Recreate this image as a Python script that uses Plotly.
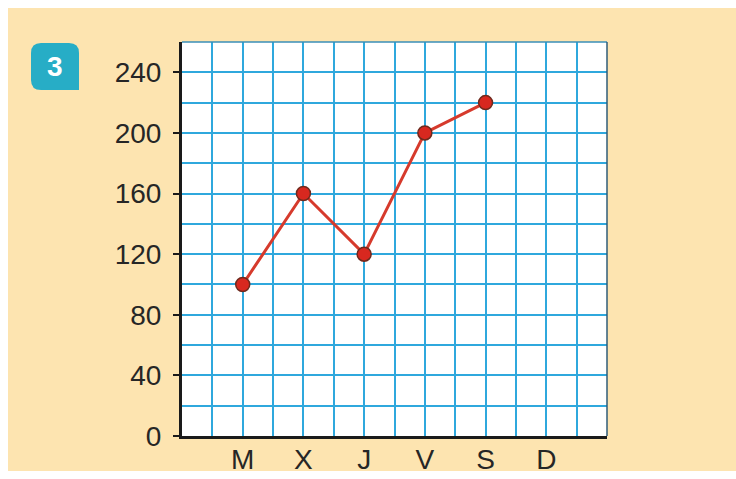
import plotly.graph_objects as go

# ---- data ----
months = ["M", "X", "J", "V", "S", "D"]
values = [100, 160, 120, 200, 220]
y_ticks = [0, 40, 80, 120, 160, 200, 240]
badge_label = "3"

W, H = 736, 479
ML, MR, MT, MB = 182, 129, 42, 43
PW, PH = W - ML - MR, H - MT - MB

def px(x):
    return (x - ML) / PW

def py(y):
    return (H - MB - y) / PH

x_pos = [2 * (i + 1) for i in range(len(months))]
x_grid = list(range(0, 15))
x_text = [months[x_pos.index(v)] if v in x_pos else "" for v in x_grid]

fig = go.Figure()
fig.add_trace(go.Scatter(
    x=x_pos[:len(values)], y=values, mode="lines+markers",
    line=dict(color="#d63a2c", width=3),
    marker=dict(size=14, color="#d8281f", line=dict(color="#6e2a1e", width=1.5)),
    showlegend=False, cliponaxis=False,
))

grid_col = "#2fa8dd"
font = dict(family="Liberation Sans", size=28, color="#262626")
fig.update_xaxes(
    range=[0, 14], tickmode="array", tickvals=x_grid, ticktext=x_text,
    showgrid=True, gridcolor=grid_col, gridwidth=2, ticks="",
    showline=True, linecolor="#1a1a1a", linewidth=3, zeroline=False,
    tickfont=font, ticklabelstandoff=-4, automargin=False,
    fixedrange=True,
)
fig.update_yaxes(
    range=[0, 260], tickmode="array", tickvals=y_ticks,
    showgrid=True, gridcolor=grid_col, gridwidth=2,
    minor=dict(dtick=20, tick0=0, showgrid=True, gridcolor=grid_col, gridwidth=2, ticks=""),
    ticks="outside", ticklen=6, tickwidth=2, tickcolor="#1a1a1a",
    showline=True, linecolor="#1a1a1a", linewidth=3, zeroline=False,
    tickfont=font, ticklabelstandoff=6, automargin=False,
    fixedrange=True,
)

white = "#ffffff"
shapes = [
    # white page border (top, left, bottom)
    dict(type="rect", xref="paper", yref="paper", x0=px(0), x1=px(W), y0=py(8), y1=py(0),
         fillcolor=white, line=dict(width=0), layer="below"),
    dict(type="rect", xref="paper", yref="paper", x0=px(0), x1=px(8), y0=py(H), y1=py(0),
         fillcolor=white, line=dict(width=0), layer="below"),
    dict(type="rect", xref="paper", yref="paper", x0=px(0), x1=px(W), y0=py(H), y1=py(471),
         fillcolor=white, line=dict(width=0), layer="below"),
    # thin border top/right
    dict(type="line", xref="paper", yref="paper", x0=0, x1=1, y0=1, y1=1,
         line=dict(color="#3a8fb8", width=1.5)),
    dict(type="line", xref="paper", yref="paper", x0=1, x1=1, y0=0, y1=1,
         line=dict(color="#2f5d78", width=1.5)),
]

# badge
bx0, by0, bx1, by1, r = 31, 43, 79, 90, 10
path = (f"M {px(bx0+r)},{py(by0)} L {px(bx1-r)},{py(by0)} "
        f"Q {px(bx1)},{py(by0)} {px(bx1)},{py(by0+r)} "
        f"L {px(bx1)},{py(by1)} L {px(bx0+r)},{py(by1)} "
        f"Q {px(bx0)},{py(by1)} {px(bx0)},{py(by1-r)} "
        f"L {px(bx0)},{py(by0+r)} Q {px(bx0)},{py(by0)} {px(bx0+r)},{py(by0)} Z")
shapes.append(dict(type="path", xref="paper", yref="paper", path=path,
                   fillcolor="#27adc6", line=dict(width=0)))

fig.update_layout(
    width=W, height=H,
    margin=dict(l=ML, r=MR, t=MT, b=MB, pad=0, autoexpand=False),
    paper_bgcolor="#fde4b0", plot_bgcolor="#ffffff",
    shapes=shapes,
    annotations=[dict(text=f"<b>{badge_label}</b>", xref="paper", yref="paper",
                      x=px((bx0 + bx1) / 2), y=py((by0 + by1) / 2),
                      xanchor="center", yanchor="middle", showarrow=False,
                      font=dict(family="Liberation Sans", size=28, color="#ffffff"))],
)

fig.write_html("out.html",
               config={"displayModeBar": False, "staticPlot": True},
               post_script="document.body.style.margin='0px';document.body.style.overflow='hidden';")
